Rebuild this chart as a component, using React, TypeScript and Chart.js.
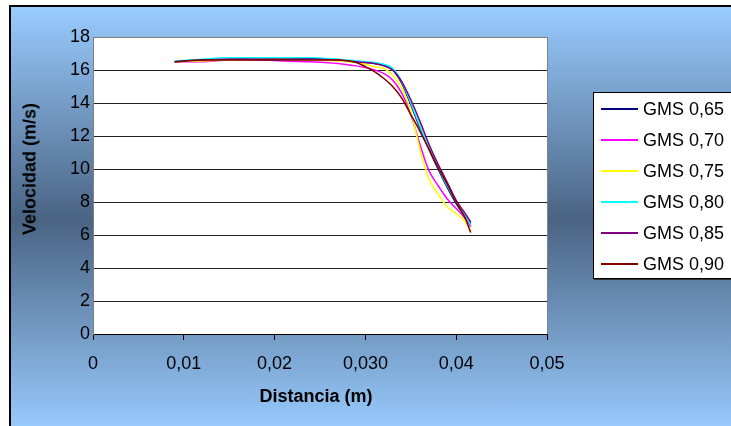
import React, { useEffect, useRef } from 'react';
import { Chart, registerables } from 'chart.js';

Chart.register(...registerables);

const xValues = [0.009, 0.012, 0.015, 0.018, 0.021, 0.024, 0.027, 0.029, 0.030, 0.031, 0.032, 0.033, 0.034, 0.035, 0.036, 0.037, 0.038, 0.039, 0.040, 0.041, 0.0416];

const gms065 = [16.5, 16.6, 16.65, 16.7, 16.7, 16.7, 16.6, 16.5, 16.45, 16.4, 16.3, 16.0, 15.2, 13.9, 12.5, 11.2, 10.0, 8.9, 7.9, 7.1, 6.7];
const gms070 = [16.5, 16.5, 16.6, 16.6, 16.55, 16.5, 16.4, 16.25, 16.15, 16.0, 15.8, 15.4, 14.6, 13.3, 11.5, 9.9, 9.0, 8.2, 7.6, 7.0, 6.5];
const gms075 = [16.5, 16.55, 16.6, 16.65, 16.65, 16.6, 16.55, 16.45, 16.35, 16.2, 16.1, 15.7, 14.9, 13.5, 11.2, 9.4, 8.5, 7.7, 7.3, 6.8, 6.25];
const gms080 = [16.55, 16.65, 16.75, 16.75, 16.75, 16.75, 16.65, 16.55, 16.5, 16.45, 16.35, 16.1, 15.3, 14.0, 12.6, 11.3, 10.1, 9.0, 8.0, 7.2, 6.6];
const gms085 = [16.5, 16.6, 16.65, 16.65, 16.65, 16.65, 16.6, 16.5, 16.45, 16.4, 16.25, 16.0, 15.3, 14.2, 12.9, 11.5, 10.3, 9.2, 8.1, 7.3, 6.8];
const gms090 = [16.5, 16.6, 16.6, 16.6, 16.6, 16.6, 16.6, 16.45, 16.2, 15.9, 15.5, 15.0, 14.3, 13.3, 12.3, 11.2, 10.1, 9.1, 8.0, 7.0, 6.15];

const seriesNames = ['GMS 0,65', 'GMS 0,70', 'GMS 0,75', 'GMS 0,80', 'GMS 0,85', 'GMS 0,90'];
const seriesValues = [gms065, gms070, gms075, gms080, gms085, gms090];
const seriesColors = ['#000080', '#FF00FF', '#FFFF00', '#00FFFF', '#800080', '#800000'];

const xTickLabels = ['0', '0,01', '0,02', '0,030', '0,04', '0,05'];
const xTitle = 'Distancia (m)';
const yTitle = 'Velocidad (m/s)';

const FONT = '"Liberation Sans", Arial, sans-serif';

export default function App() {
  const canvasRef = useRef<HTMLCanvasElement | null>(null);

  useEffect(() => {
    const canvas = canvasRef.current;
    if (!canvas) return;

    const plotBg = {
      id: 'plotBg',
      beforeDraw(chart: any) {
        const { ctx, chartArea } = chart;
        ctx.save();
        ctx.fillStyle = '#ffffff';
        ctx.fillRect(chartArea.left, chartArea.top, chartArea.right - chartArea.left, chartArea.bottom - chartArea.top);
        ctx.restore();
      },
      afterDraw(chart: any) {
        const { ctx, chartArea } = chart;
        ctx.save();
        ctx.strokeStyle = '#808080';
        ctx.lineWidth = 1;
        ctx.beginPath();
        ctx.moveTo(chartArea.left, chartArea.top + 0.5);
        ctx.lineTo(chartArea.right + 0.5, chartArea.top + 0.5);
        ctx.lineTo(chartArea.right + 0.5, chartArea.bottom);
        ctx.stroke();
        ctx.restore();
      },
    };

    const chart = new Chart(canvas, {
      type: 'line',
      data: {
        datasets: seriesValues.map((vals, i) => ({
          label: seriesNames[i],
          data: vals.map((y, j) => ({ x: xValues[j], y })),
          borderColor: seriesColors[i],
          backgroundColor: seriesColors[i],
          borderWidth: 1.5,
          pointRadius: 0,
          fill: false,
          cubicInterpolationMode: 'monotone' as const,
          order: 6 - i,
        })),
      },
      options: {
        animation: false,
        responsive: false,
        maintainAspectRatio: false,
        devicePixelRatio: 1,
        layout: { padding: { left: 0, top: 37, right: 184, bottom: 0 } },
        plugins: {
          legend: { display: false },
          tooltip: { enabled: false },
        },
        scales: {
          x: {
            type: 'linear',
            min: 0,
            max: 0.05,
            afterFit(scale: any) {
              scale.height = 92;
            },
            afterBuildTicks(scale: any) {
              scale.ticks = xTickLabels.map((_, i) => ({ value: i * 0.01 }));
            },
            ticks: {
              callback: (_v: any, i: number) => xTickLabels[i],
              font: { family: FONT, size: 18 },
              color: '#000',
              padding: 13,
              maxRotation: 0,
            },
            grid: {
              drawOnChartArea: false,
              drawTicks: true,
              tickLength: 6,
              color: '#000',
            },
            border: { display: true, color: '#000', width: 1 },
          },
          y: {
            min: 0,
            max: 18,
            afterFit(scale: any) {
              scale.width = 93;
            },
            ticks: {
              stepSize: 2,
              font: { family: FONT, size: 18 },
              color: '#000',
              padding: 3,
            },
            grid: {
              color: '#222',
              lineWidth: 1,
              drawTicks: false,
            },
            border: { display: true, color: '#808080', width: 1 },
          },
        },
      },
      plugins: [plotBg],
    } as any);

    return () => {
      chart.destroy();
    };
  }, []);

  return (
    <div
      style={{
        position: 'fixed',
        left: 0,
        top: 0,
        width: 731,
        height: 426,
        background: '#ffffff',
        overflow: 'hidden',
        fontFamily: FONT,
      }}
    >
      <div
        style={{
          position: 'absolute',
          left: 9,
          top: 5,
          width: 780,
          height: 425,
          border: '2px solid #000',
          background: 'linear-gradient(to bottom, #99CCFF 0%, #4A6383 50%, #99CCFF 100%)',
        }}
      />
      <canvas
        ref={canvasRef}
        width={731}
        height={426}
        style={{ position: 'absolute', left: 0, top: 0, width: 731, height: 426 }}
      />
      <div
        style={{
          position: 'absolute',
          left: 30,
          top: 169,
          transform: 'translate(-50%, -50%) rotate(-90deg)',
          fontWeight: 'bold',
          fontSize: 18,
          whiteSpace: 'nowrap',
          color: '#000',
        }}
      >
        {yTitle}
      </div>
      <div
        style={{
          position: 'absolute',
          left: 316,
          top: 396,
          transform: 'translate(-50%, -50%)',
          fontWeight: 'bold',
          fontSize: 18,
          whiteSpace: 'nowrap',
          color: '#000',
        }}
      >
        {xTitle}
      </div>
      <div
        style={{
          position: 'absolute',
          left: 593,
          top: 92,
          width: 160,
          height: 185,
          background: '#ffffff',
          border: '1px solid #000',
          boxShadow: '1px 1px 0 #333',
        }}
      >
        {seriesNames.map((name, i) => (
          <div
            key={name}
            style={{
              position: 'absolute',
              left: 0,
              top: 16 + i * 31 - 11,
              height: 22,
              display: 'flex',
              alignItems: 'center',
              whiteSpace: 'nowrap',
            }}
          >
            <div style={{ marginLeft: 7, width: 37, height: 2, background: seriesColors[i] }} />
            <span style={{ marginLeft: 5, fontSize: 18, color: '#000' }}>{name}</span>
          </div>
        ))}
      </div>
    </div>
  );
}
